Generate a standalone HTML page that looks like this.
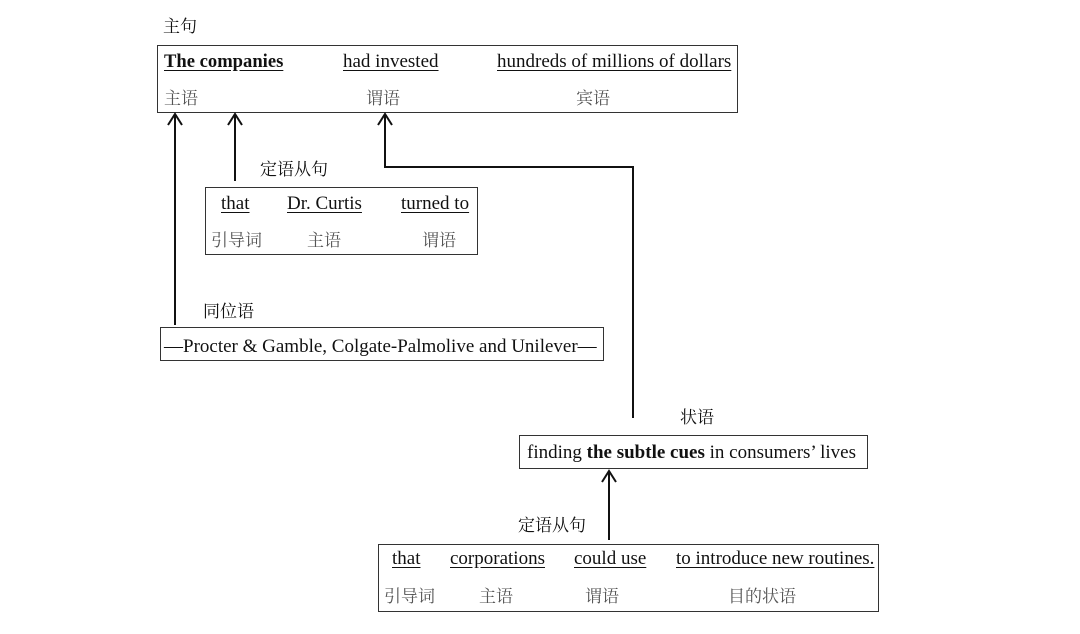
<!DOCTYPE html>
<html><head><meta charset="utf-8"><style>
body{margin:0;width:1080px;height:634px;background:#fff;position:relative;overflow:hidden;font-family:"Liberation Serif","Noto Serif CJK SC",serif;font-size:19px;color:#111}
.t{position:absolute;white-space:nowrap;line-height:20px}
.u{text-decoration:underline;text-underline-offset:3px}
.g{color:#555;font-family:"Noto Serif CJK SC",serif;font-size:17px}
.c{font-family:"Noto Serif CJK SC",serif;font-size:17px;color:#111}
.b{position:absolute;border:1.3px solid #333;box-sizing:border-box}
svg{position:absolute;left:0;top:0}
</style></head><body>
<div class="b" style="left:157px;top:45px;width:581px;height:68px"></div>
<div class="b" style="left:205px;top:187px;width:273px;height:68px"></div>
<div class="b" style="left:160px;top:327px;width:444px;height:34px"></div>
<div class="b" style="left:519px;top:435px;width:349px;height:34px"></div>
<div class="b" style="left:378px;top:544px;width:501px;height:68px"></div>

<div class="t c" style="left:163px;top:15px">主句</div>
<div class="t u" style="left:164px;top:52px;font-weight:bold;font-size:18.6px">The companies</div>
<div class="t u" style="left:343px;top:52px">had invested</div>
<div class="t u" style="left:497px;top:52px">hundreds of millions of dollars</div>
<div class="t g" style="left:164px;top:87px">主语</div>
<div class="t g" style="left:366px;top:87px">谓语</div>
<div class="t g" style="left:576px;top:87px">宾语</div>

<div class="t c" style="left:260px;top:158px">定语从句</div>
<div class="t u" style="left:221px;top:194px">that</div>
<div class="t u" style="left:287px;top:194px">Dr. Curtis</div>
<div class="t u" style="left:401px;top:194px">turned to</div>
<div class="t g" style="left:211px;top:229px">引导词</div>
<div class="t g" style="left:307px;top:229px">主语</div>
<div class="t g" style="left:422px;top:229px">谓语</div>

<div class="t c" style="left:203px;top:300px">同位语</div>
<div class="t" style="left:164px;top:337px;font-size:19px">—Procter &amp; Gamble, Colgate-Palmolive and Unilever—</div>

<div class="t c" style="left:680px;top:406px">状语</div>
<div class="t" style="left:527px;top:443px;font-size:19px">finding <b>the subtle cues</b> in consumers’ lives</div>

<div class="t c" style="left:518px;top:514px">定语从句</div>
<div class="t u" style="left:392px;top:549px">that</div>
<div class="t u" style="left:450px;top:549px">corporations</div>
<div class="t u" style="left:574px;top:549px">could use</div>
<div class="t u" style="left:676px;top:549px">to introduce new routines.</div>
<div class="t g" style="left:384px;top:585px">引导词</div>
<div class="t g" style="left:479px;top:585px">主语</div>
<div class="t g" style="left:585px;top:585px">谓语</div>
<div class="t g" style="left:728px;top:585px">目的状语</div>

<svg width="1080" height="634" fill="none" stroke="#111" stroke-width="2">
<path d="M175 325V114M168 125L175 114L182 125"/>
<path d="M235 181V114M228 125L235 114L242 125"/>
<path d="M633 418V167H385V114M378 125L385 114L392 125"/>
<path d="M609 540V471M602 482L609 471L616 482"/>
</svg>
</body></html>
